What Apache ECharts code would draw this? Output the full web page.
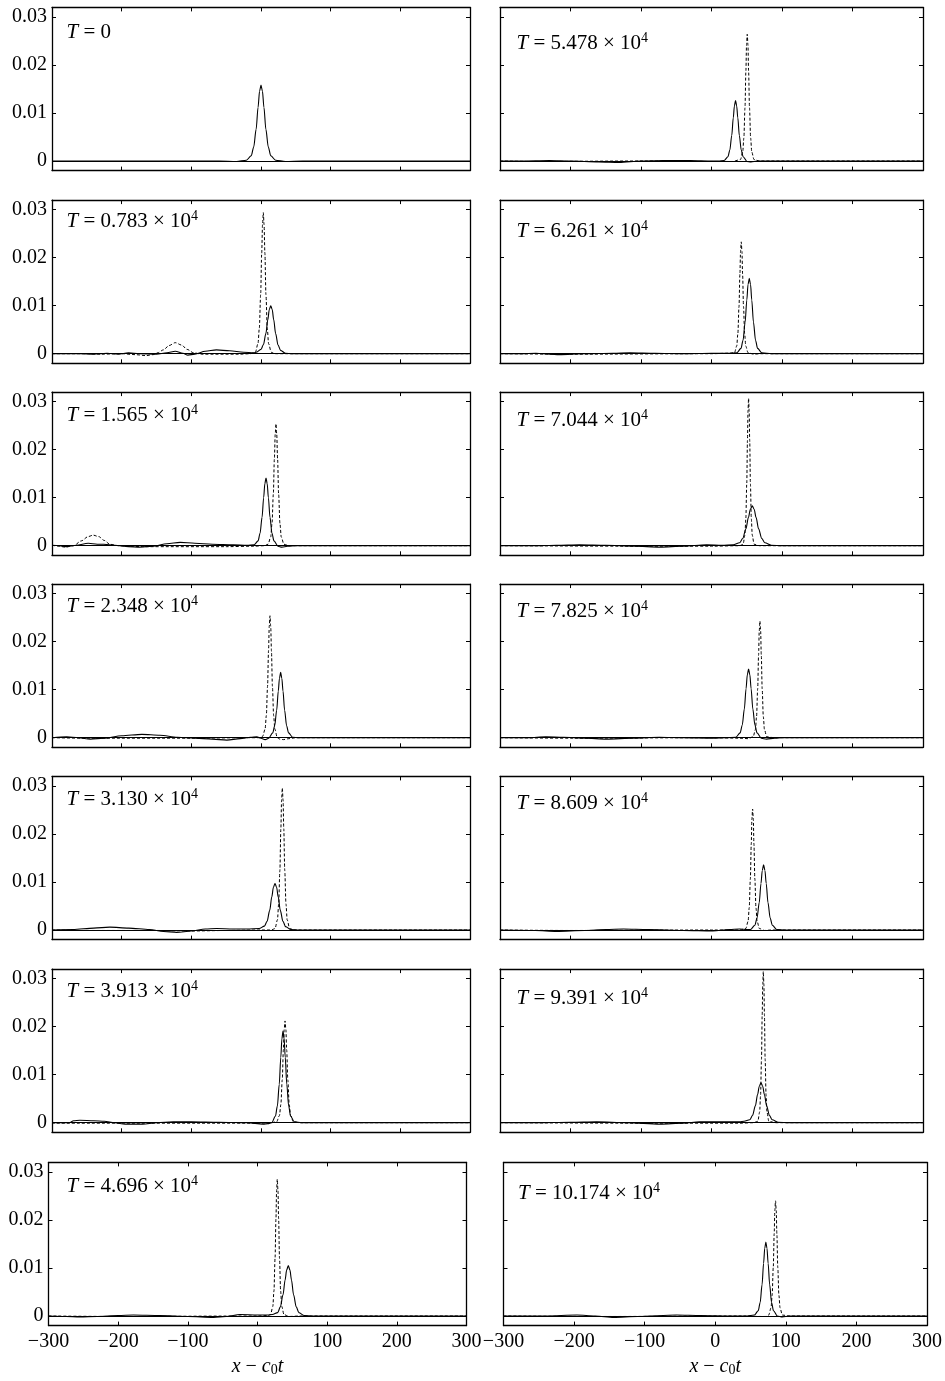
<!DOCTYPE html>
<html>
<head>
<meta charset="utf-8">
<script src="https://cdn.jsdelivr.net/npm/echarts@6/dist/echarts.min.js"></script>
<style>
html, body { margin: 0; padding: 0; background: #fff; }
#chart { width: 945px; height: 1381px; }
</style>
</head>
<body>
<div id="chart"></div>
<script>
// panel times (x 10^4), left column top to bottom then right column
const tValues = ["0", "0.783", "1.565", "2.348", "3.130", "3.913", "4.696",
  "5.478", "6.261", "7.044", "7.825", "8.609", "9.391", "10.174"];
const xTicks = [-300, -200, -100, 0, 100, 200, 300];
const yTicks = [0, 0.01, 0.02, 0.03];

// [x - c0 t, value]
const solid_0 = [[-300,0],[-60,0],[-35,-0.0001],[-21,0.00016],[-14,0.0011],[-10.5,0.0029],[-7,0.0066],[-4.2,0.0112],[-2.1,0.0145],[0,0.0158],[2.1,0.0145],[4.2,0.0112],[7,0.0066],[10.5,0.0029],[14,0.0011],[21,0.00016],[35,-0.0001],[60,0],[300,0]];
const dashed_0 = [];

const solid_0783 = [[-300,0],[-260,0],[-240,-0.0001],[-221,0.0001],[-205,-0.0001],[-190,0.0002],[-175,0],[-150,-0.0001],[-135,0.0002],[-123,0.0005],[-112,0.0001],[-105,-0.0003],[-95,-0.0001],[-80,0.0005],[-64,0.0008],[-45,0.0006],[-25,0.0003],[-10,0.0002],[-7,0.0003],[0,0.0009],[3.5,0.0019],[7,0.0042],[9.8,0.0071],[11.9,0.0092],[14,0.0100],[16.1,0.0092],[18.2,0.0071],[21,0.0042],[24.5,0.0018],[28,0.0007],[35,0.0001],[45,0],[300,0]];
const dashed_0783 = [[-300,0],[-250,0],[-230,-0.0001],[-200,0],[-180,-0.0002],[-165,-0.0004],[-155,-0.0002],[-148,0.0002],[-140,0.0008],[-132,0.0017],[-123,0.0023],[-114,0.0018],[-106,0.0009],[-97,0.0002],[-85,-0.0001],[-30,-0.0001],[-15,0],[-8.1,0.0003],[-4.3,0.0021],[-2.4,0.0053],[-0.5,0.0123],[1.0,0.0209],[2.2,0.0269],[3.3,0.0294],[4.4,0.0269],[5.6,0.0209],[7.1,0.0123],[9.0,0.0053],[10.9,0.0021],[14.7,0.0003],[20,0],[300,0]];

const solid_1565 = [[-300,0.0001],[-290,0],[-280,-0.0002],[-265,0.0001],[-248,0.0005],[-235,0.0003],[-226,0.0003],[-210,0.0001],[-190,-0.0002],[-174,-0.0003],[-155,-0.0001],[-135,0.0004],[-116,0.0007],[-95,0.0005],[-70,0.0003],[-40,0.0002],[-20,0.0001],[-9.9,0.0002],[-4.2,0.0010],[-1.35,0.0026],[1.5,0.0059],[3.8,0.0100],[5.5,0.0129],[7.2,0.0141],[8.9,0.0129],[10.6,0.0100],[12.9,0.0059],[15.75,0.0026],[18.6,0.0010],[24.3,-0.0001],[30,-0.0003],[38,-0.0001],[50,0],[300,0]];
const dashed_1565 = [[-300,0.0001],[-290,-0.0001],[-281,-0.0003],[-269,0],[-258,0.0010],[-248,0.0019],[-241,0.0022],[-233,0.0019],[-225,0.0011],[-217,0.0003],[-205,0],[-190,-0.0001],[-170,-0.0002],[-50,-0.0002],[-10,-0.0001],[5,0],[10.1,0.0003],[13.9,0.0018],[15.8,0.0046],[17.7,0.0107],[19.2,0.0181],[20.4,0.0232],[21.5,0.0254],[22.6,0.0232],[23.8,0.0181],[25.3,0.0107],[27.2,0.0046],[29.1,0.0018],[32.9,0.0003],[40,0],[300,0]];

const solid_2348 = [[-300,0],[-279,0.0002],[-262,0],[-245,-0.0003],[-225,-0.0001],[-200,0.0004],[-171,0.0007],[-145,0.0005],[-120,0.0001],[-95,-0.0001],[-70,-0.0003],[-49,-0.0005],[-30,-0.0002],[-15,0.0001],[-6,0.0002],[0,-0.0001],[6,-0.0004],[11.1,-0.0001],[16.8,0.0010],[19.65,0.0025],[22.5,0.0057],[24.8,0.0097],[26.5,0.0124],[28.2,0.0136],[29.9,0.0124],[31.6,0.0097],[33.9,0.0057],[36.75,0.0025],[39.6,0.0010],[45.3,0.0001],[55,0],[300,0]];
const dashed_2348 = [[-300,0],[-250,-0.0001],[-100,-0.0001],[-20,0],[0,0],[2.4,0.0003],[5.9,0.0018],[7.65,0.0046],[9.4,0.0107],[10.8,0.0181],[11.85,0.0232],[12.9,0.0254],[13.95,0.0232],[15.0,0.0181],[16.4,0.0107],[18.15,0.0046],[19.9,0.0018],[23.4,0],[27,-0.0003],[32,-0.0004],[40,-0.0002],[50,0],[300,0]];

const solid_3130 = [[-300,0],[-270,0.0001],[-240,0.0004],[-217,0.0006],[-190,0.0004],[-160,0.0001],[-140,-0.0003],[-121,-0.0005],[-100,-0.0002],[-80,0.0002],[-64,0.0003],[-40,0.0002],[-20,0.0002],[-2.7,0.0003],[4.9,0.0008],[8.7,0.0018],[12.5,0.0041],[15.5,0.0069],[17.8,0.0089],[20.1,0.0097],[22.4,0.0089],[24.7,0.0069],[27.7,0.0041],[31.5,0.0018],[35.3,0.0007],[42.9,0.0001],[55,0],[300,0]];
const dashed_3130 = [[-300,0],[-250,-0.0001],[-150,-0.0001],[-100,-0.0002],[-50,-0.0001],[0,0],[15,0],[20.1,0.0003],[23.6,0.0021],[25.35,0.0054],[27.1,0.0124],[28.5,0.0211],[29.55,0.0271],[30.6,0.0296],[31.65,0.0271],[32.7,0.0211],[34.1,0.0124],[35.85,0.0054],[37.6,0.0021],[41.1,0.0003],[48,0],[300,0]];

const solid_3913 = [[-300,0],[-275,0],[-269,0.0004],[-260,0.0005],[-240,0.0004],[-225,0.0003],[-210,0],[-195,-0.0003],[-170,-0.0003],[-150,0],[-126,0.0002],[-100,0.0002],[-60,0.0001],[-20,0],[3,-0.0003],[10,-0.0002],[15.4,0],[20.8,0.0014],[23.5,0.0035],[26.2,0.0080],[28.4,0.0136],[30.0,0.0175],[31.6,0.0191],[33.2,0.0175],[34.8,0.0136],[37.0,0.0080],[39.7,0.0035],[42.4,0.0014],[47.8,0.0002],[58,0],[300,0]];
const dashed_3913 = [[-300,-0.0001],[0,-0.0001],[15,0],[22.5,0.0002],[26.5,0.0015],[28.5,0.0038],[30.5,0.0089],[32.1,0.0151],[33.3,0.0194],[34.5,0.0212],[35.7,0.0194],[36.9,0.0151],[38.5,0.0089],[40.5,0.0038],[42.5,0.0015],[46.5,0.0002],[55,0],[300,0]];

const solid_4696 = [[-300,0],[-275,-0.0001],[-255,-0.0002],[-230,-0.0001],[-200,0.0001],[-178,0.0002],[-140,0.0001],[-100,-0.0001],[-63,-0.0003],[-45,-0.0001],[-25,0.0003],[0,0.0002],[15,0.0002],[21.4,0.0003],[29.0,0.0007],[32.8,0.0019],[36.6,0.0044],[39.6,0.0075],[41.9,0.0096],[44.2,0.0105],[46.5,0.0096],[48.8,0.0075],[51.8,0.0044],[55.6,0.0019],[59.4,0.0007],[67,0.0001],[80,0],[300,0]];
const dashed_4696 = [[-300,0],[-200,-0.0001],[0,0],[15,0.0001],[18.8,0.0003],[22.0,0.0020],[23.6,0.0052],[25.2,0.0120],[26.5,0.0203],[27.4,0.0261],[28.4,0.0285],[29.4,0.0261],[30.3,0.0203],[31.6,0.0120],[33.2,0.0052],[34.8,0.0020],[38.0,0.0003],[45,-0.0001],[60,0],[300,0]];

const solid_5478 = [[-300,0],[-270,0],[-230,0.0001],[-200,0],[-160,-0.0002],[-131,-0.0003],[-100,0],[-69,0.0001],[-30,0.0001],[0,0],[10,0],[17.9,0.0001],[23.3,0.0009],[26.0,0.0023],[28.7,0.0053],[30.9,0.0090],[32.5,0.0115],[34.1,0.0126],[35.7,0.0115],[37.3,0.0090],[39.5,0.0053],[42.2,0.0023],[44.9,0.0009],[50.3,-0.0001],[56,-0.0002],[65,0],[300,0]];
const dashed_5478 = [[-300,0],[-250,-0.0001],[-100,0],[0,-0.0001],[30,-0.0001],[41.1,0.0003],[44.3,0.0019],[45.9,0.0048],[47.5,0.0111],[48.8,0.0188],[49.7,0.0242],[50.7,0.0264],[51.7,0.0242],[52.6,0.0188],[53.9,0.0111],[55.5,0.0048],[57.1,0.0019],[60.3,0.0003],[68,0],[300,0]];

const solid_6261 = [[-300,0],[-270,0],[-249,0.0001],[-230,-0.0001],[-216,-0.0002],[-180,0],[-140,0.0001],[-116,0.0002],[-80,0.0001],[-40,0],[0,0.0001],[25,0.0001],[35.9,0.0002],[41.8,0.0011],[44.75,0.0028],[47.7,0.0066],[50.1,0.0112],[51.8,0.0144],[53.6,0.0157],[55.4,0.0144],[57.1,0.0112],[59.5,0.0066],[62.45,0.0028],[65.4,0.0011],[71.3,0.0002],[85,0],[300,0]];
const dashed_6261 = [[-300,0],[-200,-0.0001],[0,0],[25,0.0001],[32.6,0.0002],[35.8,0.0016],[37.4,0.0042],[39.0,0.0098],[40.3,0.0166],[41.2,0.0213],[42.2,0.0233],[43.2,0.0213],[44.1,0.0166],[45.4,0.0098],[47.0,0.0042],[48.6,0.0016],[51.8,0.0002],[60,-0.0001],[70,0],[300,0]];

const solid_7044 = [[-300,0],[-250,0],[-220,0.0001],[-187,0.0002],[-150,0.0001],[-110,-0.0001],[-73,-0.0003],[-40,-0.0001],[-7,0.0002],[15,0.0001],[30.8,0.0002],[39.8,0.0006],[44.3,0.0015],[48.8,0.0035],[52.4,0.0059],[55.1,0.0076],[57.8,0.0083],[60.5,0.0076],[63.2,0.0059],[66.8,0.0035],[71.3,0.0015],[75.8,0.0006],[84.8,0.0001],[100,0],[300,0]];
const dashed_7044 = [[-300,0],[-100,-0.0001],[0,-0.0001],[40,0],[44.8,0.0003],[47.4,0.0022],[48.7,0.0056],[50.0,0.0129],[51.0,0.0219],[51.8,0.0281],[52.6,0.0307],[53.4,0.0281],[54.2,0.0219],[55.2,0.0129],[56.5,0.0056],[57.8,0.0022],[60.4,0.0003],[68,0],[300,0]];

const solid_7825 = [[-300,0],[-260,0],[-235,0.0002],[-210,0.0001],[-180,-0.0001],[-149,-0.0003],[-110,-0.0001],[-74,0.0001],[-40,0],[2,-0.0001],[20,0],[34.6,0.0001],[40.6,0.0010],[43.6,0.0026],[46.6,0.0060],[49.0,0.0102],[50.8,0.0131],[52.6,0.0143],[54.4,0.0131],[56.2,0.0102],[58.6,0.0060],[61.6,0.0026],[64.6,0.0010],[70.6,-0.0001],[78,-0.0003],[90,-0.0001],[100,0],[300,0]];
const dashed_7825 = [[-300,0],[-200,-0.0001],[0,0],[40,-0.0001],[52,-0.0002],[59.1,0.0002],[62.3,0.0017],[63.9,0.0044],[65.5,0.0102],[66.8,0.0173],[67.7,0.0222],[68.7,0.0243],[69.7,0.0222],[70.6,0.0173],[71.9,0.0102],[73.5,0.0044],[75.1,0.0017],[78.3,0.0002],[88,0],[300,0]];

const solid_8609 = [[-300,0],[-250,-0.0001],[-220,-0.0003],[-180,-0.0001],[-150,0.0001],[-125,0.0002],[-90,0.0001],[-40,-0.0001],[2,-0.0002],[25,0.0001],[40,0.0002],[50,0.0001],[55.3,0.0001],[61.5,0.0010],[64.6,0.0025],[67.7,0.0057],[70.2,0.0097],[72.0,0.0124],[73.9,0.0136],[75.8,0.0124],[77.6,0.0097],[80.1,0.0057],[83.2,0.0025],[86.3,0.0010],[92.5,0.0001],[105,0],[300,0]];
const dashed_8609 = [[-300,0],[-200,-0.0001],[0,0],[40,0],[48.7,0.0003],[51.9,0.0018],[53.5,0.0046],[55.1,0.0106],[56.4,0.0179],[57.3,0.0231],[58.3,0.0252],[59.3,0.0231],[60.2,0.0179],[61.5,0.0106],[63.1,0.0046],[64.7,0.0018],[67.9,0.0003],[75,-0.0001],[85,0],[300,0]];

const solid_9391 = [[-300,0],[-250,0],[-200,0.0001],[-163,0.0002],[-120,0],[-73,-0.0003],[-40,-0.0001],[-17,0.0002],[20,0.0002],[40,0.0002],[46.2,0.0003],[54.2,0.0006],[58.2,0.0015],[62.2,0.0035],[65.4,0.0059],[67.8,0.0076],[70.2,0.0083],[72.6,0.0076],[75.0,0.0059],[78.2,0.0035],[82.2,0.0015],[86.2,0.0006],[94.2,0.0001],[110,0],[300,0]];
const dashed_9391 = [[-300,0],[-100,-0.0001],[40,-0.0001],[60,0],[65.7,0.0003],[68.3,0.0022],[69.6,0.0057],[70.9,0.0132],[71.9,0.0224],[72.7,0.0288],[73.5,0.0315],[74.3,0.0288],[75.1,0.0224],[76.1,0.0132],[77.4,0.0057],[78.7,0.0022],[81.3,0.0003],[90,0],[300,0]];

const solid_10174 = [[-300,0],[-240,0],[-196,0.0002],[-170,0],[-144,-0.0003],[-110,-0.0001],[-55,0.0002],[-20,0.0001],[20,0],[45,0],[55.5,0.0002],[60.9,0.0011],[63.6,0.0028],[66.3,0.0065],[68.5,0.0110],[70.1,0.0141],[71.7,0.0154],[73.3,0.0141],[74.9,0.0110],[77.1,0.0065],[79.8,0.0028],[82.5,0.0011],[87.9,0],[95,-0.0002],[105,0],[300,0]];
const dashed_10174 = [[-300,0],[-150,-0.0001],[40,0],[65,-0.0001],[72,-0.0001],[75.8,0.0002],[79.0,0.0017],[80.6,0.0043],[82.2,0.0101],[83.5,0.0171],[84.4,0.0220],[85.4,0.0240],[86.4,0.0220],[87.3,0.0171],[88.6,0.0101],[90.2,0.0043],[91.8,0.0017],[95.0,0.0002],[105,0],[300,0]];

const solids = [solid_0, solid_0783, solid_1565, solid_2348, solid_3130, solid_3913, solid_4696,
  solid_5478, solid_6261, solid_7044, solid_7825, solid_8609, solid_9391, solid_10174];
const dasheds = [dashed_0, dashed_0783, dashed_1565, dashed_2348, dashed_3130, dashed_3913, dashed_4696,
  dashed_5478, dashed_6261, dashed_7044, dashed_7825, dashed_8609, dashed_9391, dashed_10174];

// layout (pixels)
const rowZero = [161, 353.7, 545.7, 737.7, 930, 1122.7, 1316];
const labelCenter = [32, 221.7, 415, 606.7, 799.3, 991.7, 1186.7,
  43, 231.7, 420, 611.7, 803, 998, 1193];

const FONT = "'Liberation Serif', 'Times New Roman', serif";
const chart = echarts.init(document.getElementById("chart"));

const grids = [], xAxes = [], yAxes = [], series = [], titles = [];
const richT = {
  i: { fontFamily: FONT, fontStyle: "italic", fontSize: 21, color: "#000", lineHeight: 24 },
  sup: { fontFamily: FONT, fontSize: 14, color: "#000", verticalAlign: "top", lineHeight: 14 }
};
const richName = {
  i: { fontFamily: FONT, fontStyle: "italic", fontSize: 20, color: "#000", lineHeight: 22 },
  n: { fontFamily: FONT, fontSize: 20, color: "#000", lineHeight: 22 },
  sub: { fontFamily: FONT, fontSize: 14, color: "#000", verticalAlign: "bottom", lineHeight: 14 }
};
const lineBlack = { color: "#000", width: 1.3 };

for (let p = 0; p < 14; p++) {
  const col = p < 7 ? 0 : 1;
  const row = p % 7;
  const y0 = rowZero[row];
  let left = col === 0 ? 52 : 500;
  let width = col === 0 ? 418 : 423;
  if (row === 6) { left = col === 0 ? 48.5 : 503.5; width = col === 0 ? 418 : 424; }
  grids.push({ left: left, top: y0 - 153.6, width: width, height: 163.2 });

  const bottomRow = row === 6;
  xAxes.push({
    gridIndex: p, type: "value", min: -300, max: 300, interval: 100, position: "bottom",
    axisLine: { show: true, onZero: false, lineStyle: lineBlack },
    axisTick: { show: true, inside: true, length: 4, lineStyle: { color: "#000", width: 1 } },
    axisLabel: {
      show: bottomRow, margin: 6, fontFamily: FONT, fontSize: 20, color: "#000",
      formatter: v => (v < 0 ? "\u2212" + Math.abs(v) : String(v))
    },
    splitLine: { show: false },
    name: bottomRow ? "{i|x}{n| \u2212 }{i|c}{sub|0}{i|t}" : "",
    nameLocation: "middle", nameGap: 30,
    nameTextStyle: { fontFamily: FONT, fontSize: 20, color: "#000", rich: richName }
  });
  xAxes.push({
    gridIndex: p, type: "value", min: -300, max: 300, interval: 100, position: "top",
    axisLine: { show: true, onZero: false, lineStyle: lineBlack },
    axisTick: { show: true, inside: true, length: 4, lineStyle: { color: "#000", width: 1 } },
    axisLabel: { show: false }, splitLine: { show: false }
  });
  yAxes.push({
    gridIndex: p, type: "value", min: -0.002, max: 0.032, position: "left",
    axisLine: { show: true, onZero: false, lineStyle: lineBlack },
    axisTick: { show: true, inside: true, length: 4, customValues: yTicks, lineStyle: { color: "#000", width: 1 } },
    axisLabel: {
      show: col === 0, customValues: yTicks, margin: 5, fontFamily: FONT, fontSize: 20, color: "#000",
      formatter: v => (v === 0 ? "0" : v.toFixed(2))
    },
    splitLine: { show: false }
  });
  yAxes.push({
    gridIndex: p, type: "value", min: -0.002, max: 0.032, position: "right",
    axisLine: { show: true, onZero: false, lineStyle: lineBlack },
    axisTick: { show: true, inside: true, length: 4, customValues: yTicks, lineStyle: { color: "#000", width: 1 } },
    axisLabel: { show: false }, splitLine: { show: false }
  });

  series.push({
    type: "line", xAxisIndex: 2 * p, yAxisIndex: 2 * p, data: solids[p],
    symbol: "none", smooth: 0.3, smoothMonotone: "x", animation: false, z: 3,
    lineStyle: { color: "#000", width: 1.1 },
    markLine: {
      silent: true, symbol: "none", label: { show: false }, animation: false,
      lineStyle: { color: "#000", width: 1, type: "solid" },
      emphasis: { disabled: true },
      data: [{ yAxis: 0 }]
    }
  });
  if (dasheds[p].length) {
    series.push({
      type: "line", xAxisIndex: 2 * p, yAxisIndex: 2 * p, data: dasheds[p],
      symbol: "none", smooth: 0.3, smoothMonotone: "x", animation: false, z: 4,
      lineStyle: { color: "#000", width: 1, type: [3, 2] }
    });
  }

  const text = tValues[p] === "0"
    ? "{i|T} = 0"
    : "{i|T} = " + tValues[p] + " \u00d7 10{sup|4}";
  titles.push({
    text: text,
    left: col === 0 ? 66.5 : (row === 6 ? 518 : 516.5),
    top: labelCenter[p] - 12,
    padding: 0,
    textStyle: { fontFamily: FONT, fontSize: 21, fontWeight: "normal", color: "#000", lineHeight: 24, rich: richT }
  });
}

chart.setOption({
  animation: false,
  backgroundColor: "#fff",
  title: titles,
  grid: grids,
  xAxis: xAxes,
  yAxis: yAxes,
  series: series
});
</script>
</body>
</html>
